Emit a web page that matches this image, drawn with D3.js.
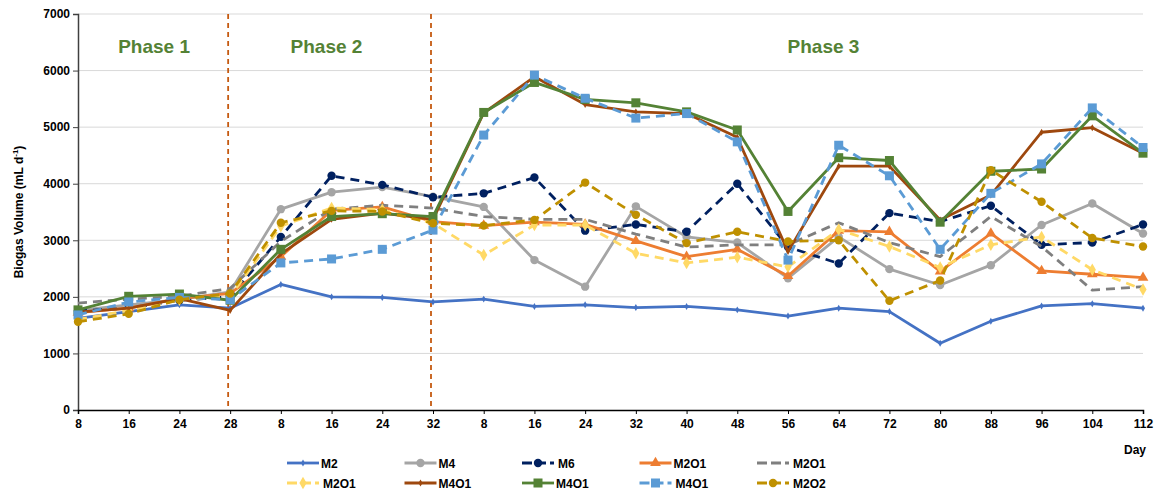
<!DOCTYPE html>
<html>
<head>
<meta charset="utf-8">
<script src="https://cdn.jsdelivr.net/npm/d3@7"></script>
<style>
  body { margin: 0; background: #fff; }
  text { font-family: "Liberation Sans", Arial, sans-serif; }
</style>
</head>
<body>
<script>
// day labels on the x axis (phase 1, phase 2, phase 3)
var days = ["8","16","24","28","8","16","24","32","8","16","24","32","40","48","56","64","72","80","88","96","104","112"];
var yTicks = [0,1000,2000,3000,4000,5000,6000,7000];
var phaseBreaks = [3, 7];
var phaseNames = ["Phase 1", "Phase 2", "Phase 3"];

var m2     = [1620,1740,1860,1800,2220,2000,1990,1910,1960,1830,1860,1810,1830,1770,1660,1800,1740,1180,1570,1840,1880,1800];
var m4     = [1760,1860,1950,2090,3550,3850,3940,3770,3590,2650,2180,3600,3060,2960,2330,3060,2490,2210,2560,3270,3650,3120];
var m6     = [1750,1800,1940,2000,3060,4140,3980,3760,3830,4110,3170,3280,3150,4000,2880,2590,3480,3330,3610,2920,2960,3280];
var m2o1a  = [1720,1800,1970,2060,2710,3530,3590,3330,3260,3320,3280,2990,2710,2840,2370,3170,3150,2450,3120,2460,2400,2340];
var m2o1b  = [1890,1960,2010,2150,2980,3550,3620,3570,3420,3370,3370,3110,2880,2920,2920,3310,2960,2710,3420,2890,2120,2180];
var m2o1c  = [1600,1760,1950,2000,3250,3570,3540,3300,2740,3270,3270,2770,2600,2700,2530,3190,2890,2520,2920,3060,2480,2130];
var m4o1a  = [1730,1800,1970,1760,2760,3370,3480,3370,5250,5890,5400,5270,5240,4820,2800,4310,4310,3360,3800,4910,4990,4540];
var m4o1b  = [1770,2010,2050,1940,2840,3420,3470,3420,5260,5790,5490,5430,5270,4950,3510,4460,4410,3320,4220,4260,5200,4540];
var m4o1c  = [1680,1910,1990,1950,2600,2670,2840,3180,4860,5920,5510,5160,5240,4740,2650,4680,4140,2840,3830,4350,5340,4640];
var m2o2   = [1560,1700,1950,2060,3310,3520,3510,3300,3260,3360,4020,3450,2950,3150,2980,3000,1930,2290,4240,3680,3040,2890];

var seriesNames  = ["M2","M4","M6","M2O1","M2O1","M2O1","M4O1","M4O1","M4O1","M2O2"];
var seriesValues = [m2, m4, m6, m2o1a, m2o1b, m2o1c, m4o1a, m4o1b, m4o1c, m2o2];
var seriesColors = ["#4472C4","#A5A5A5","#002060","#ED7D31","#7F7F7F","#FFD966","#9E480E","#548235","#5B9BD5","#BF9000"];
var seriesDash   = [null, null, "9,6", null, "9,6", "9,6", null, null, "9,6", "9,6"];
var seriesMarker = ["tiny","circle","circle","triangle","none","diamond","tiny","square","square","circle"];

var w = 1163, h = 492;
var plotLeft = 78, plotRight = 1143, plotTop = 14, plotBottom = 410;

var svg = d3.select("body").append("svg")
  .attr("width", w)
  .attr("height", h);

var x = d3.scalePoint()
  .domain(d3.range(days.length))
  .range([plotLeft, plotRight]);

var y = d3.scaleLinear()
  .domain([0, 7000])
  .range([plotBottom, plotTop]);

// gridlines
svg.append("g")
  .selectAll("line")
  .data(yTicks.slice(1))
  .enter().append("line")
  .attr("x1", plotLeft).attr("x2", plotRight)
  .attr("y1", function(d) { return y(d); })
  .attr("y2", function(d) { return y(d); })
  .attr("stroke", "#D9D9D9")
  .attr("stroke-width", 1);

// y axis
var yAxis = svg.append("g")
  .attr("transform", "translate(" + plotLeft + ",0)")
  .call(d3.axisLeft(y).tickValues(yTicks).tickSize(5).tickFormat(d3.format("d")));
yAxis.select(".domain").attr("stroke", "#404040").attr("stroke-width", 1.5);
yAxis.selectAll(".tick line").attr("stroke", "#404040");
yAxis.selectAll("text")
  .attr("font-size", 12).attr("font-weight", "bold").attr("fill", "#000")
  .style("font-family", "Liberation Sans, Arial, sans-serif");

// x axis
var xAxis = svg.append("g")
  .attr("transform", "translate(0," + plotBottom + ")")
  .call(d3.axisBottom(x).tickSize(4).tickFormat(function(i) { return days[i]; }));
xAxis.select(".domain").attr("stroke", "#000").attr("stroke-width", 1.5);
xAxis.selectAll(".tick line").attr("stroke", "#000");
xAxis.selectAll("text")
  .attr("font-size", 12).attr("font-weight", "bold").attr("fill", "#000")
  .attr("dy", "0.9em")
  .style("font-family", "Liberation Sans, Arial, sans-serif");

// phase separators
svg.append("g")
  .selectAll("line")
  .data(phaseBreaks)
  .enter().append("line")
  .attr("x1", function(d) { return x(d) - 2; })
  .attr("x2", function(d) { return x(d) - 2; })
  .attr("y1", plotTop).attr("y2", plotBottom)
  .attr("stroke", "#C55A11")
  .attr("stroke-width", 1.8)
  .attr("stroke-dasharray", "5,4");

// phase labels
var phaseCenters = [1.5, 4.9, 14.7];
svg.append("g")
  .selectAll("text")
  .data(phaseNames)
  .enter().append("text")
  .attr("x", function(d, i) { return x(0) + (x(1) - x(0)) * phaseCenters[i]; })
  .attr("y", 53)
  .attr("text-anchor", "middle")
  .attr("font-size", 19)
  .attr("font-weight", "bold")
  .attr("fill", "#548235")
  .text(function(d) { return d; });

// axis titles
var yt = svg.append("text")
  .attr("transform", "translate(23," + ((plotTop + plotBottom) / 2) + ") rotate(-90)")
  .attr("text-anchor", "middle")
  .attr("font-size", 12)
  .attr("font-weight", "bold");
yt.append("tspan").text("Biogas Volume (mL d");
yt.append("tspan").attr("dy", -5).attr("font-size", 8).text("-1");
yt.append("tspan").attr("dy", 5).text(")");

svg.append("text")
  .attr("x", 1124).attr("y", 454)
  .attr("font-size", 12).attr("font-weight", "bold")
  .text("Day");

// markers
function drawMarker(g, kind, color, cx, cy) {
  if (kind == "circle") {
    g.append("circle").attr("cx", cx).attr("cy", cy).attr("r", 4.2).attr("fill", color);
  } else if (kind == "square") {
    g.append("rect").attr("x", cx - 4.5).attr("y", cy - 4.5).attr("width", 9).attr("height", 9).attr("fill", color);
  } else if (kind == "triangle") {
    g.append("path").attr("d", d3.symbol(d3.symbolTriangle, 50)()).attr("transform", "translate(" + cx + "," + cy + ")").attr("fill", color);
  } else if (kind == "diamond") {
    g.append("path").attr("d", d3.symbol(d3.symbolDiamond, 45)()).attr("transform", "translate(" + cx + "," + cy + ")").attr("fill", color);
  } else if (kind == "tiny") {
    g.append("path").attr("d", d3.symbol(d3.symbolDiamond, 14)()).attr("transform", "translate(" + cx + "," + cy + ")").attr("fill", color);
  }
}

var line = d3.line()
  .x(function(d, i) { return x(i); })
  .y(function(d) { return y(d); });

seriesValues.forEach(function(vals, s) {
  var g = svg.append("g");
  g.append("path")
    .datum(vals)
    .attr("d", line)
    .attr("fill", "none")
    .attr("stroke", seriesColors[s])
    .attr("stroke-width", 2.8)
    .attr("stroke-linejoin", "round")
    .attr("stroke-dasharray", seriesDash[s]);
  vals.forEach(function(v, i) {
    drawMarker(g, seriesMarker[s], seriesColors[s], x(i), y(v));
  });
});

// legend
var legend = svg.selectAll(".legend")
  .data(seriesNames)
  .enter().append("g")
  .attr("class", "legend")
  .attr("transform", function(d, i) {
    return "translate(" + (287 + (i % 5) * 117.5) + "," + (463 + Math.floor(i / 5) * 20) + ")";
  });

legend.append("line")
  .attr("x1", 0).attr("x2", 32)
  .attr("y1", 0).attr("y2", 0)
  .attr("stroke", function(d, i) { return seriesColors[i]; })
  .attr("stroke-width", 2.8)
  .attr("stroke-dasharray", function(d, i) { return seriesDash[i] ? "10,4" : null; });

legend.each(function(d, i) {
  drawMarker(d3.select(this), seriesMarker[i], seriesColors[i], 16, 0);
});

legend.append("text")
  .attr("x", function(d, i) { return seriesDash[i] ? 36 : 34; })
  .attr("y", 4.5)
  .attr("font-size", 12)
  .attr("font-weight", "bold")
  .text(function(d) { return d; });
</script>
</body>
</html>
